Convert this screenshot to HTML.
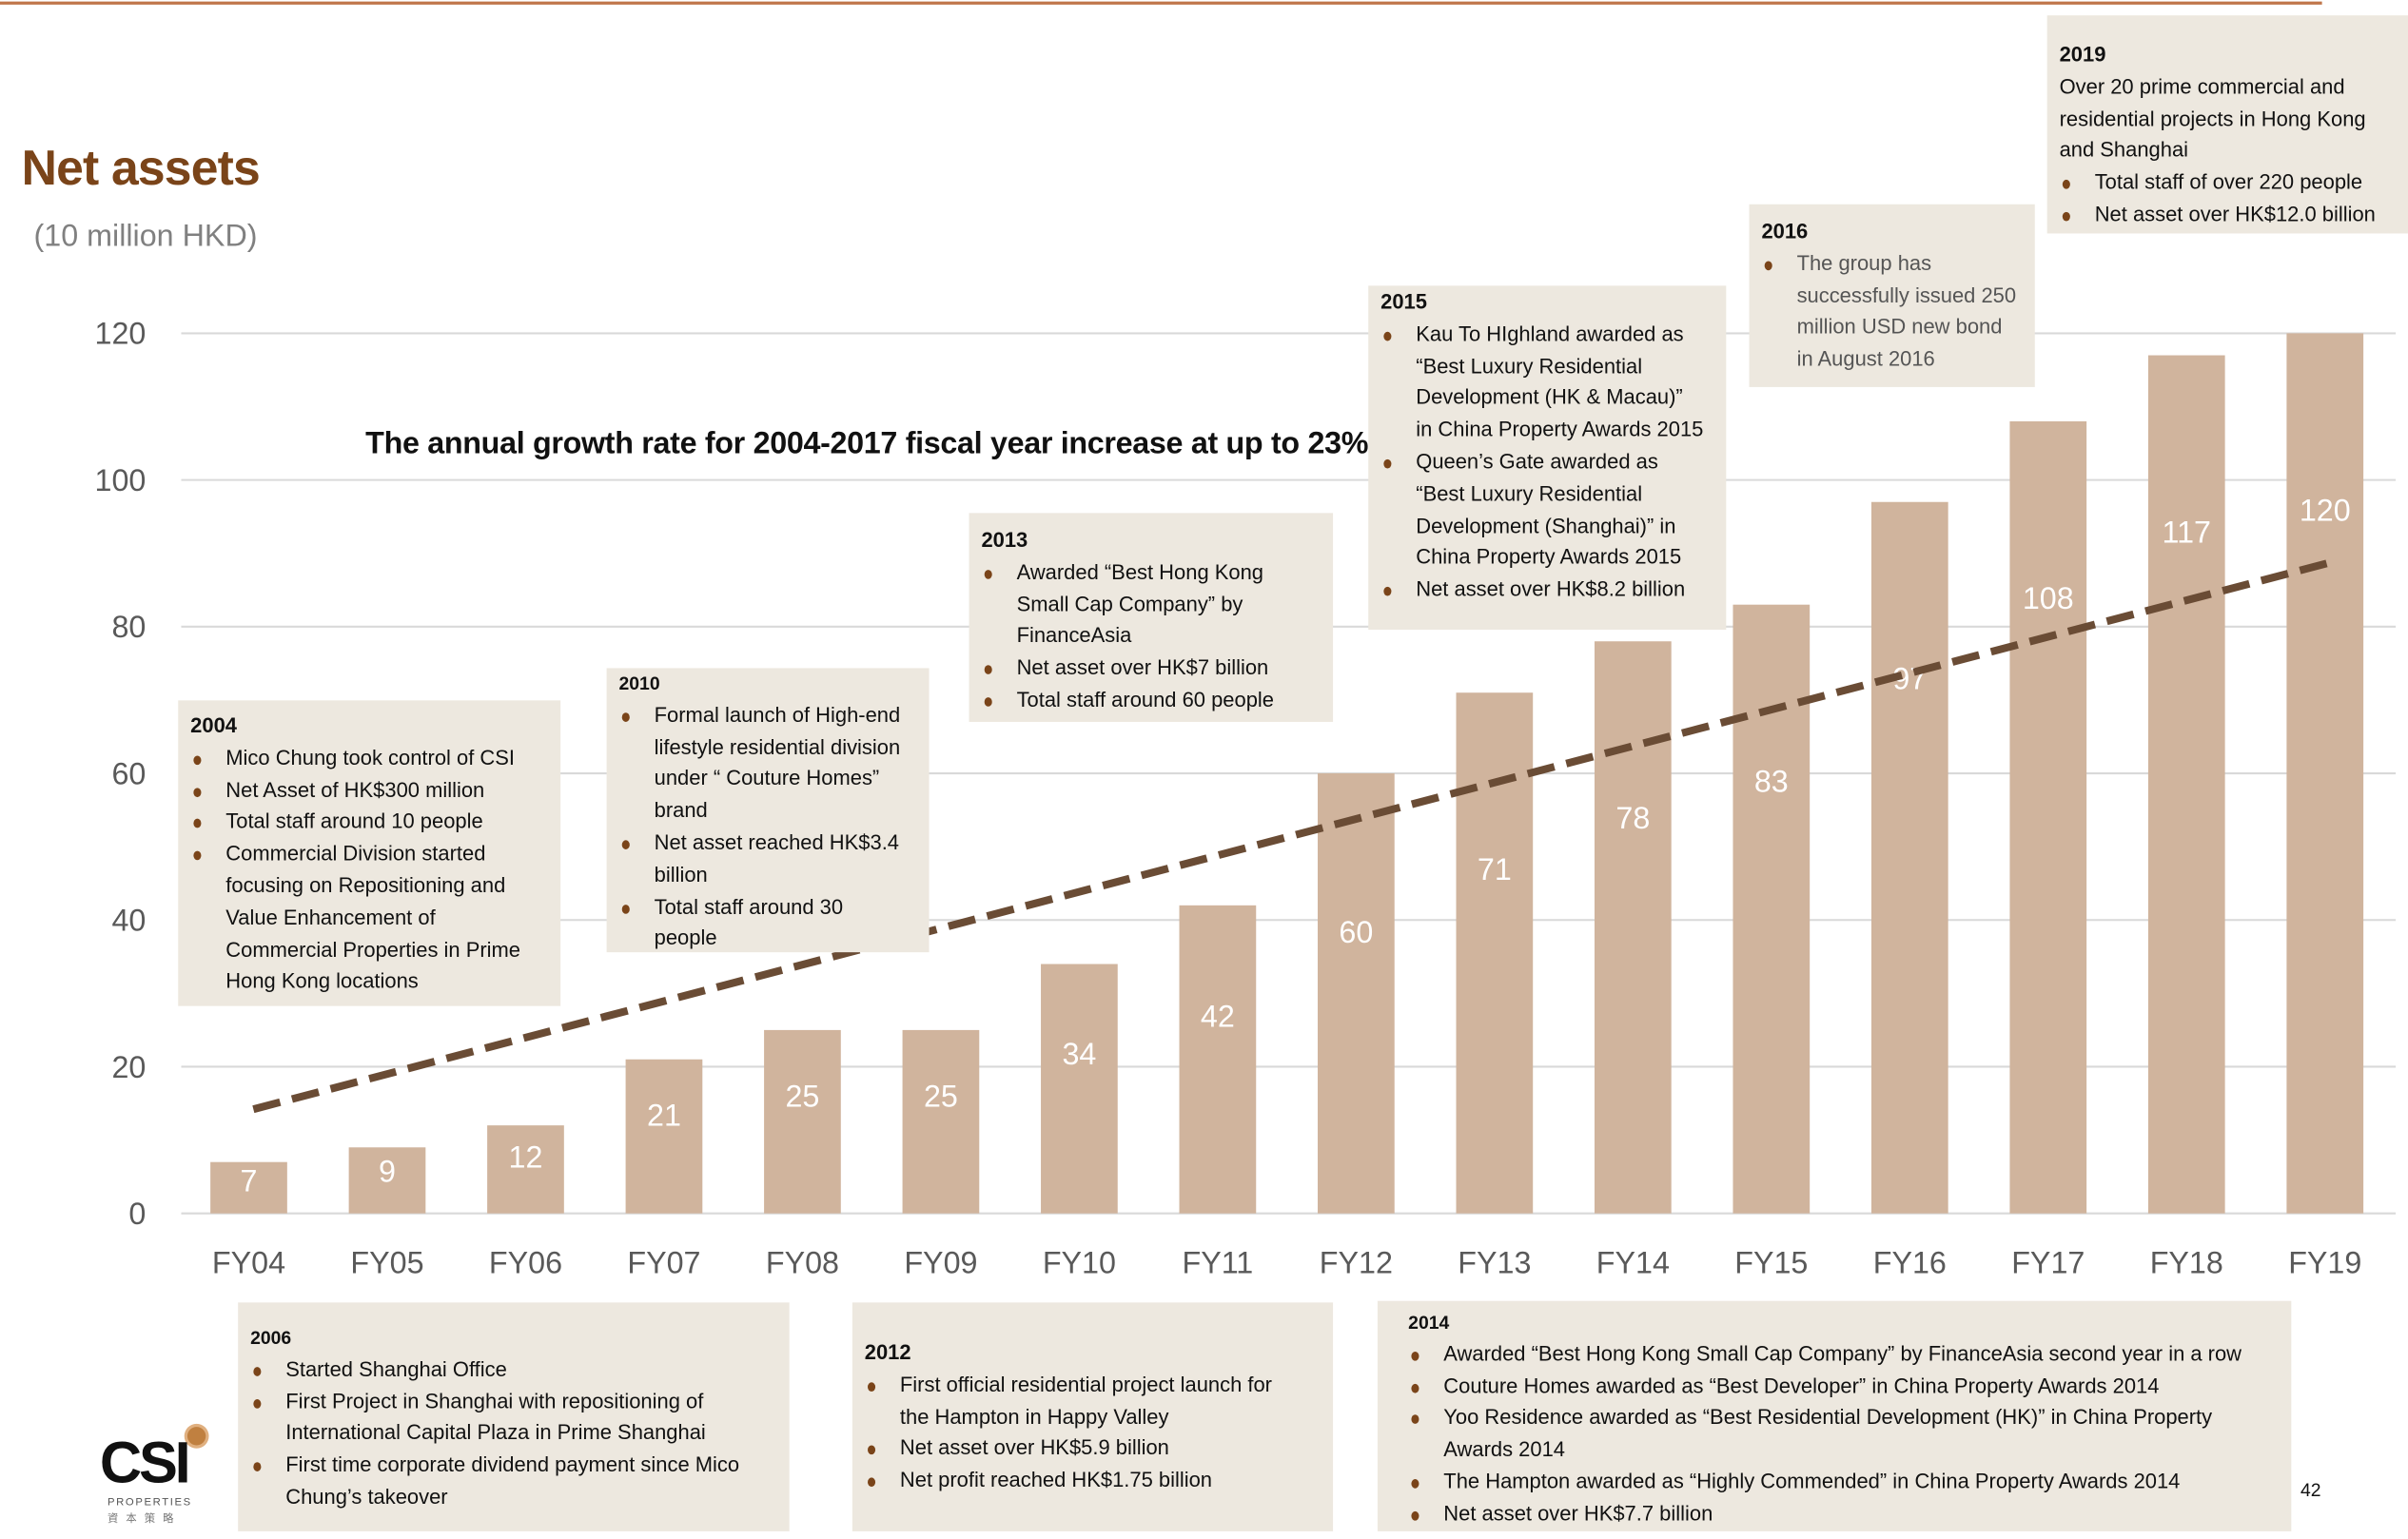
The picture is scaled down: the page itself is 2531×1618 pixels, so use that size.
<!DOCTYPE html>
<html><head><meta charset="utf-8">
<style>
html,body{margin:0;padding:0;background:#fff;}
body{width:2531px;height:1618px;overflow:hidden;position:relative;}
#s{position:absolute;left:0;top:0;width:1568px;height:1002px;transform:scale(1.61416,1.61477);transform-origin:0 0;font-family:"Liberation Sans",sans-serif;}
.box{position:absolute;background:#ede8df;font-size:13.6px;letter-spacing:0;color:#111;line-height:20.8px;box-sizing:border-box;padding-left:8px;}
.box b{display:block;font-size:13.6px;}
.box ul{margin:0;padding:0;list-style:none;}
.box li{position:relative;padding-left:23px;white-space:nowrap;}
.box li:before{content:"";position:absolute;left:2px;top:8px;width:5px;height:6px;border-radius:50%;background:#7a4419;}
</style></head><body>
<div id="s">
<div style="position:absolute;left:0;top:1px;width:1512px;height:2px;background:#c0764a;"></div>
<div style="position:absolute;left:14px;top:91px;font-size:32px;font-weight:bold;color:#7a4419;letter-spacing:-0.5px;">Net assets</div>
<div style="position:absolute;left:22px;top:143px;font-size:20px;color:#808080;">(10 million HKD)</div>
<div style="position:absolute;left:238px;top:278px;font-size:20px;font-weight:bold;color:#111;letter-spacing:-0.2px;">The annual growth rate for 2004-2017 fiscal year increase at up to 23%</div>

<svg id="chart" width="1568" height="1002" style="position:absolute;left:0;top:0;"></svg>

<div class="box" style="left:116px;top:456px;width:249px;height:199px;padding-top:7px;"><b>2004</b><ul><li>Mico Chung took control of CSI</li><li>Net Asset of HK$300 million</li><li>Total staff around 10 people</li><li>Commercial Division started<br>focusing on Repositioning and<br>Value Enhancement of<br>Commercial Properties in Prime<br>Hong Kong locations</li></ul></div>
<div class="box" style="left:395px;top:435px;width:210px;height:185px;padding-top:0px;"><b style="font-size:12px;">2010</b><ul><li>Formal launch of High-end<br>lifestyle residential division<br>under “ Couture Homes”<br>brand</li><li>Net asset reached HK$3.4<br>billion</li><li>Total staff around 30<br>people</li></ul></div>
<div class="box" style="left:631px;top:334px;width:237px;height:136px;padding-top:8px;"><b>2013</b><ul><li>Awarded “Best Hong Kong<br>Small Cap Company” by<br>FinanceAsia</li><li>Net asset over HK$7 billion</li><li>Total staff around 60 people</li></ul></div>
<div class="box" style="left:891px;top:186px;width:233px;height:224px;padding-top:1px;"><b>2015</b><ul><li>Kau To HIghland awarded as<br>“Best Luxury Residential<br>Development (HK &amp; Macau)”<br>in China Property Awards 2015</li><li>Queen’s Gate awarded as<br>“Best Luxury Residential<br>Development (Shanghai)” in<br>China Property Awards 2015</li><li>Net asset over HK$8.2 billion</li></ul></div>
<div class="box" style="left:1139px;top:133px;width:186px;height:119px;padding-top:8px;color:#555;"><b style="color:#111;">2016</b><ul><li>The group has<br>successfully issued 250<br>million USD new bond<br>in August 2016</li></ul></div>
<div class="box" style="left:1333px;top:10px;width:235px;height:142px;padding-top:16px;"><b>2019</b><div>Over 20 prime commercial and<br>residential projects in Hong Kong<br>and Shanghai</div><ul><li>Total staff of over 220 people</li><li>Net asset over HK$12.0 billion</li></ul></div>
<div class="box" style="left:155px;top:848px;width:359px;height:149px;padding-top:13px;"><b style="font-size:12px;">2006</b><ul><li>Started Shanghai Office</li><li>First Project in Shanghai with repositioning of<br>International Capital Plaza in Prime Shanghai</li><li>First time corporate dividend payment since Mico<br>Chung’s takeover</li></ul></div>
<div class="box" style="left:555px;top:848px;width:313px;height:149px;padding-top:23px;"><b>2012</b><ul><li>First official residential project launch for<br>the Hampton in Happy Valley</li><li>Net asset over HK$5.9 billion</li><li>Net profit reached HK$1.75 billion</li></ul></div>
<div class="box" style="left:897px;top:847px;width:595px;height:150px;padding-top:4px;padding-left:20px;"><b style="font-size:12px;">2014</b><ul><li>Awarded “Best Hong Kong Small Cap Company” by FinanceAsia second year in a row</li><li>Couture Homes awarded as “Best Developer” in China Property Awards 2014</li><li>Yoo Residence awarded as “Best Residential Development (HK)” in China Property<br>Awards 2014</li><li>The Hampton awarded as “Highly Commended” in China Property Awards 2014</li><li>Net asset over HK$7.7 billion</li></ul></div>

<div style="position:absolute;left:1498px;top:963px;font-size:12px;color:#111;">42</div>
<div style="position:absolute;left:64px;top:925px;width:75px;height:72px;">
  <div style="position:absolute;left:58px;top:4px;width:12px;height:12px;border-radius:50%;background:#c08040;box-shadow:0 0 0 2px #e0b080;"></div>
  <div style="position:absolute;left:1px;top:8px;font-size:38px;font-weight:bold;letter-spacing:-2px;color:#111;line-height:40px;">CSI</div>
  <div style="position:absolute;left:6px;top:50px;font-size:7px;letter-spacing:1px;color:#555;">PROPERTIES</div>
  <div style="position:absolute;left:6px;top:59px;font-size:7px;letter-spacing:5px;color:#777;font-family:'Liberation Sans','Noto Sans CJK TC',sans-serif;">資本策略</div>
</div>
</div>
<script>
const categories=["FY04","FY05","FY06","FY07","FY08","FY09","FY10","FY11","FY12","FY13","FY14","FY15","FY16","FY17","FY18","FY19"];
const netAssets=[7,9,12,21,25,25,34,42,60,71,78,83,97,108,117,120];
const yTicks=[0,20,40,60,80,100,120];
const trendStart=14.2;
const trendEnd=89;
const NS="http://www.w3.org/2000/svg";
const svg=document.getElementById('chart');
const y0=790,y120=217,xFirst=162,step=90.13,barW=50;
function y(v){return y0-(v/120)*(y0-y120);}
function x(i){return xFirst+i*step;}
function mk(t,a){const e=document.createElementNS(NS,t);for(const k in a)e.setAttribute(k,a[k]);svg.appendChild(e);return e;}
yTicks.forEach(v=>{
  const g=mk('line',{x1:118,x2:1560,y1:y(v),y2:y(v),stroke:'#d9d9d9','stroke-width':1.3});
  
  
  const t=mk('text',{x:95,y:y(v)+7,'text-anchor':'end','font-size':20,fill:'#595959','font-family':'Liberation Sans, sans-serif'});
  t.textContent=v;
  
  
});
netAssets.forEach((v,i)=>{
  const r=mk('rect',{x:x(i)-barW/2,y:y(v),width:barW,height:y0-y(v),fill:'#d0b49d'});
  
  
  const h=y0-y(v);
  const off=Math.max(Math.min(0.36*h,115),10);
  const l=mk('text',{x:x(i),y:y(v)+off+7,'text-anchor':'middle','font-size':20,fill:'#fff','font-family':'Liberation Sans, sans-serif'});
  l.textContent=v;
  
  
  const c=mk('text',{x:x(i),y:829,'text-anchor':'middle','font-size':20,fill:'#595959','font-family':'Liberation Sans, sans-serif'});
  c.textContent=categories[i];
  
  
});
const tl=mk('line',{x1:x(0)+3,y1:y(trendStart),x2:x(categories.length-1)+8,y2:y(trendEnd),stroke:'#6a4c35','stroke-width':5,'stroke-dasharray':'18 8'});


</script>
</body></html>
